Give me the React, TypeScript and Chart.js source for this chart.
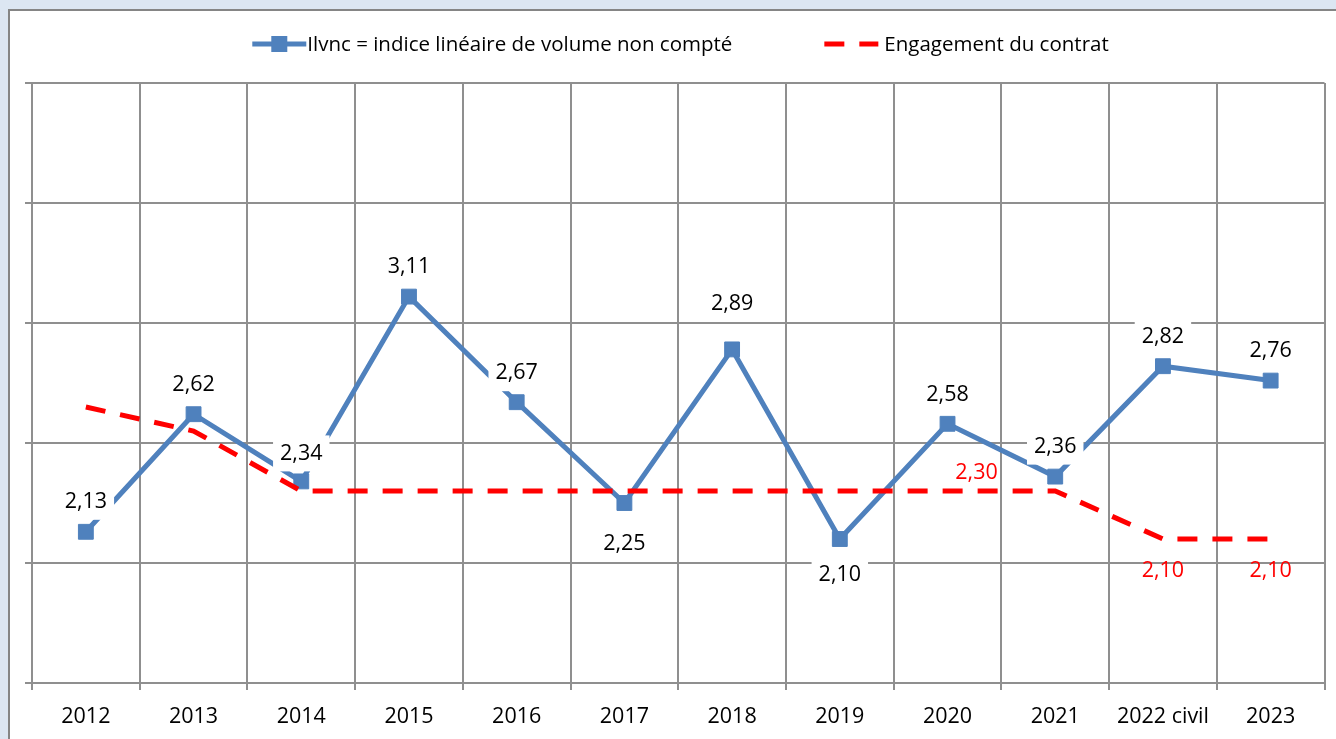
import React, { useEffect, useRef } from 'react';
import { Chart, registerables } from 'chart.js';

Chart.register(...registerables);

// ---- data ----
const categories = ['2012', '2013', '2014', '2015', '2016', '2017', '2018', '2019', '2020', '2021', '2022 civil', '2023'];
const ilvncValues = [2.13, 2.62, 2.34, 3.11, 2.67, 2.25, 2.89, 2.10, 2.58, 2.36, 2.82, 2.76];
const engagementValues = [2.65, 2.55, 2.30, 2.30, 2.30, 2.30, 2.30, 2.30, 2.30, 2.30, 2.10, 2.10];
const engagementLabelIndices = [8, 10, 11];
const seriesNames = ['Ilvnc = indice linéaire de volume non compté', 'Engagement du contrat'];
const yMin = 1.5;
const yMax = 4;
const yStep = 0.5;

// ---- styles ----
const FONT = '"Open Sans", "Noto Sans", sans-serif';
const AXIS_FONT_SIZE = 21.5;
const LABEL_FONT_SIZE = 21.5;
const LEGEND_FONT_SIZE = 20.5;
const BLUE = '#4f81bd';
const RED = '#ff0000';
const GRID = '#8f8f8f';
const ilvncLabelDy = [-30, -29, -28, -30, -29, 41, -46, 36, -29, -30, -29, -30];
const engagementLabelShift: Record<number, [number, number]> = { 8: [29, -18], 10: [0, 32], 11: [0, 32] };

const fmt = (v: number) => v.toFixed(2).replace('.', ',');

const valueLabelPlugin = {
  id: 'valueLabels',
  afterDatasetsDraw(chart: any) {
    const ctx = chart.ctx;
    ctx.save();
    ctx.font = `${LABEL_FONT_SIZE}px ${FONT}`;
    ctx.textAlign = 'center';
    ctx.textBaseline = 'middle';
    const metaBlue = chart.getDatasetMeta(0);
    metaBlue.data.forEach((pt: any, i: number) => {
      const txt = fmt(ilvncValues[i]);
      const x = pt.x;
      const y = pt.y + ilvncLabelDy[i];
      const w = ctx.measureText(txt).width + 14;
      const h = 36;
      ctx.fillStyle = '#ffffff';
      ctx.fillRect(x - w / 2, y - h / 2, w, h);
      ctx.fillStyle = '#000000';
      ctx.fillText(txt, x, y);
    });
    const metaRed = chart.getDatasetMeta(1);
    engagementLabelIndices.forEach((i) => {
      const pt = metaRed.data[i];
      const [dx, dy] = engagementLabelShift[i] || [0, 30];
      ctx.fillStyle = RED;
      ctx.fillText(fmt(engagementValues[i]), pt.x + dx, pt.y + dy);
    });
    ctx.restore();
  },
};

const legendPlugin = {
  id: 'customLegend',
  afterDraw(chart: any) {
    const ctx = chart.ctx;
    ctx.save();
    ctx.font = `${LEGEND_FONT_SIZE}px ${FONT}`;
    ctx.textBaseline = 'middle';
    ctx.textAlign = 'left';
    const sampleW = 54;
    const gapText0 = 1;
    const gapText1 = 6;
    const gapItems = 92;
    const w0 = ctx.measureText(seriesNames[0]).width;
    const w1 = ctx.measureText(seriesNames[1]).width;
    const total = sampleW * 2 + gapText0 + gapText1 + w0 + w1 + gapItems;
    let x = 680.5 - total / 2;
    const y = 44;
    // blue sample
    ctx.strokeStyle = BLUE;
    ctx.lineWidth = 5;
    ctx.beginPath();
    ctx.moveTo(x, y);
    ctx.lineTo(x + sampleW, y);
    ctx.stroke();
    ctx.fillStyle = BLUE;
    ctx.fillRect(x + sampleW / 2 - 8, y - 8, 16, 16);
    ctx.fillStyle = '#000000';
    ctx.fillText(seriesNames[0], x + sampleW + gapText0, y + 1);
    x += sampleW + gapText0 + w0 + gapItems;
    // red sample
    ctx.strokeStyle = RED;
    ctx.lineWidth = 5;
    ctx.setLineDash([20, 15]);
    ctx.beginPath();
    ctx.moveTo(x, y);
    ctx.lineTo(x + sampleW, y);
    ctx.stroke();
    ctx.setLineDash([]);
    ctx.fillStyle = '#000000';
    ctx.fillText(seriesNames[1], x + sampleW + gapText1, y + 1);
    ctx.restore();
  },
};

export default function App() {
  const canvasRef = useRef<HTMLCanvasElement | null>(null);

  useEffect(() => {
    const canvas = canvasRef.current;
    if (!canvas) return;
    const chart = new Chart(canvas, {
      type: 'line',
      data: {
        labels: categories,
        datasets: [
          {
            label: seriesNames[0],
            data: ilvncValues,
            borderColor: BLUE,
            backgroundColor: BLUE,
            borderWidth: 5,
            pointStyle: 'rect',
            pointRadius: 10.5,
            pointBorderWidth: 1,
            pointBackgroundColor: BLUE,
            pointBorderColor: BLUE,
            tension: 0,
            order: 1,
          },
          {
            label: seriesNames[1],
            data: engagementValues,
            borderColor: RED,
            backgroundColor: RED,
            borderWidth: 5,
            borderDash: [20, 15],
            pointRadius: 0,
            tension: 0,
            order: 0,
          },
        ],
      },
      options: {
        responsive: false,
        animation: false,
        devicePixelRatio: 1,
        layout: { padding: { left: 25, top: 83, right: 11, bottom: 0 } },
        plugins: {
          legend: { display: false },
          tooltip: { enabled: false },
          title: { display: false },
        },
        scales: {
          x: {
            type: 'category',
            offset: true,
            grid: {
              offset: true,
              color: GRID,
              lineWidth: 2,
              tickLength: 7,
              drawTicks: true,
            },
            border: { display: true, color: GRID, width: 2 },
            ticks: {
              color: '#000000',
              font: { family: FONT, size: AXIS_FONT_SIZE },
              padding: 14,
              maxRotation: 0,
              autoSkip: false,
            },
            afterFit: (scale: any) => {
              scale.height = 56;
            },
          },
          y: {
            min: yMin,
            max: yMax,
            grid: {
              color: GRID,
              lineWidth: 2,
              tickLength: 7,
              drawTicks: true,
            },
            border: { display: true, color: GRID, width: 2 },
            ticks: { display: false, stepSize: yStep },
            afterFit: (scale: any) => {
              scale.width = 7;
            },
          },
        },
      },
      plugins: [valueLabelPlugin, legendPlugin],
    });
    return () => chart.destroy();
  }, []);

  return (
    <div
      style={{
        position: 'fixed',
        left: 0,
        top: 0,
        width: 1336,
        height: 739,
        background: '#dce6f2',
        overflow: 'hidden',
      }}
    >
      <div
        style={{
          position: 'absolute',
          left: 8,
          top: 9,
          width: 1400,
          height: 800,
          background: '#ffffff',
          border: '2px solid #858585',
          boxSizing: 'border-box',
        }}
      />
      <canvas
        ref={canvasRef}
        width={1336}
        height={739}
        style={{ position: 'absolute', left: 0, top: 0, width: 1336, height: 739 }}
      />
    </div>
  );
}
